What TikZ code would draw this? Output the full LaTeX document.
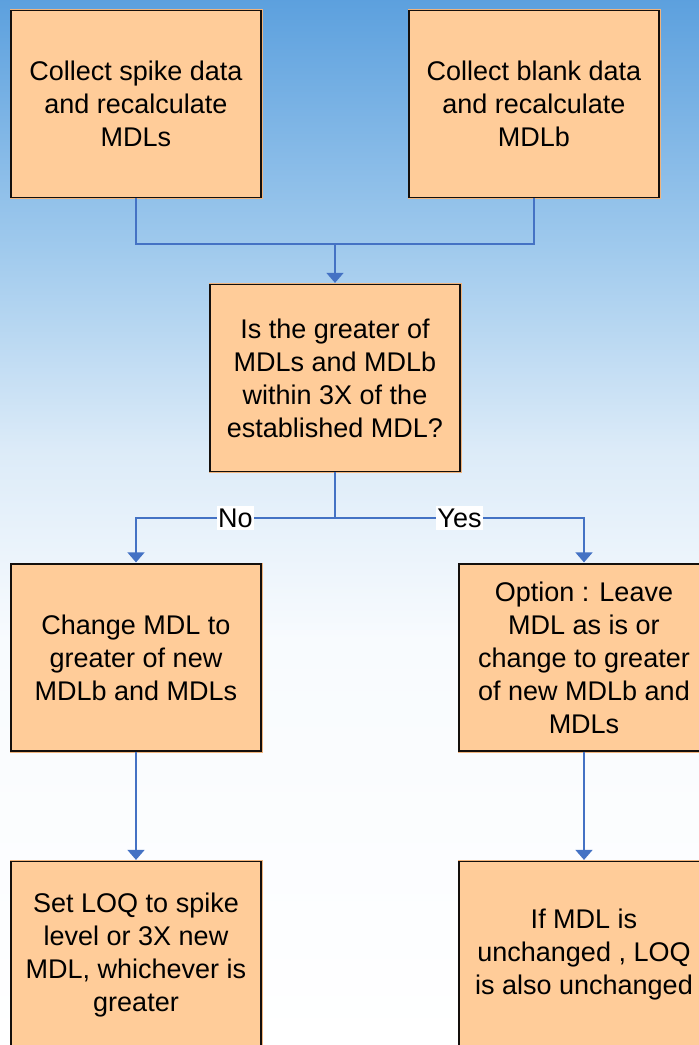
\documentclass[tikz,border=0pt]{standalone}
\usepackage{fontspec}
\setmainfont{Liberation Sans}
\usetikzlibrary{arrows.meta}

\definecolor{boxfill}{RGB}{255,204,153}
\definecolor{boxglow}{RGB}{240,180,125}
\definecolor{boxline}{RGB}{20,15,12}
\definecolor{flow}{RGB}{68,114,196}
\definecolor{skyA}{RGB}{92,160,222}
\definecolor{skyB}{RGB}{160,202,237}
\definecolor{skyC}{RGB}{220,235,248}
\definecolor{skyD}{RGB}{248,251,254}

\tikzset{
  stepbox/.style={
    rectangle, fill=boxfill, draw=boxline, line width=1.2pt,
    preaction={draw=boxglow, line width=3pt},
    minimum width=250pt, minimum height=187pt, inner sep=0pt,
    align=center, font=\fontsize{27}{33}\selectfont
  },
  link/.style={draw=flow, line width=1.4pt},
  arrowlink/.style={link, -{Triangle[width=17pt,length=10pt]}, shorten >=1pt},
  answer/.style={fill=white, inner xsep=1pt, inner ysep=3pt,
    font=\fontsize{27}{33}\selectfont}
}

\begin{document}
\begin{tikzpicture}[x=1pt,y=-1pt]
  \useasboundingbox (0,0) rectangle (699,1045);
  \begin{scope}
    \clip (0,0) rectangle (699,1045);
    % sky background fading to white
    \shade[top color=skyA, bottom color=skyB] (0,-1) rectangle (699,250);
    \shade[top color=skyB, bottom color=skyC] (0,249) rectangle (699,450);
    \shade[top color=skyC, bottom color=skyD] (0,449) rectangle (699,640);
    \shade[top color=skyD, bottom color=white] (0,639) rectangle (699,1046);

    % process boxes
    \node[stepbox] (spike) at (136,104) {Collect spike data\\and recalculate\\MDLs};
    \node[stepbox] (blank) at (534,104) {Collect blank data\\and recalculate\\MDLb};
    \node[stepbox] (check) at (335,378) {Is the greater of\\MDLs and MDLb\\within 3X of the\\established MDL?};
    \node[stepbox] (change) at (136,657.5) {Change MDL to\\greater of new\\MDLb and MDLs};
    \node[stepbox] (option) at (584,657.5) {Option : Leave\\MDL as is or\\change to greater\\of new MDLb and\\MDLs};
    \node[stepbox] (setloq) at (136,955) {Set LOQ to spike\\level or 3X new\\MDL, whichever is\\greater};
    \node[stepbox] (keeploq) at (584,955) {If MDL is\\unchanged , LOQ\\is also unchanged};

    % junction points
    \coordinate (merge) at (335,244);
    \coordinate (split) at (335,518);

    % connectors
    \draw[link] (spike.south) |- (merge);
    \draw[link] (blank.south) |- (merge);
    \draw[arrowlink] (merge) -- (check.north);
    \draw[link] (check.south) -- (split);
    \draw[arrowlink] (split) -| node[answer, pos=0.25] {No} (change.north);
    \draw[arrowlink] (split) -| node[answer, pos=0.25] {Yes} (option.north);
    \draw[arrowlink] (change.south) -- (setloq.north);
    \draw[arrowlink] (option.south) -- (keeploq.north);
  \end{scope}
\end{tikzpicture}
\end{document}
